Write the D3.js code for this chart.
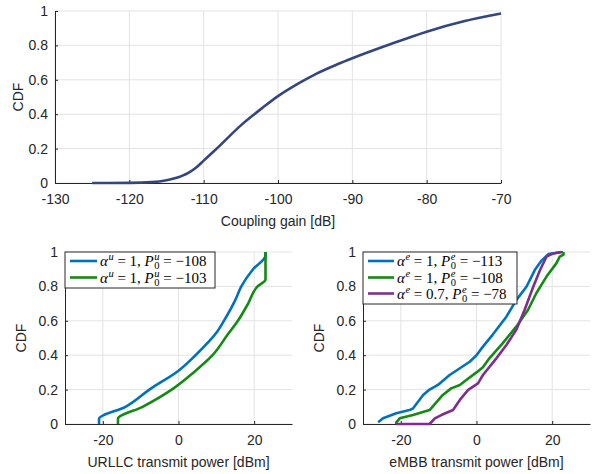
<!DOCTYPE html>
<html>
<head>
<meta charset="utf-8">
<script src="https://cdn.jsdelivr.net/npm/d3@7"></script>
<style>
  body { margin: 0; background: #fff; }
  svg { display: block; }
  .tick text { font-family: "Liberation Sans", Arial, sans-serif; }
</style>
</head>
<body>
<svg id="chart" width="616" height="474"></svg>
<script>
// coupling gain CDF (top panel)
var gainX = [-125, -120, -117, -115, -113, -112, -111, -110, -109, -108, -105, -102, -100, -97, -95, -92, -90, -85, -80, -75, -70];
var gainY = [0, 0.001, 0.005, 0.016, 0.04, 0.06, 0.09, 0.13, 0.17, 0.21, 0.335, 0.44, 0.505, 0.585, 0.632, 0.69, 0.725, 0.805, 0.88, 0.94, 0.985];

// URLLC transmit power CDFs
var urllcBlueX = [-21, -21, -14, -7.7, 0, 4.5, 10, 12, 15, 16.6, 19.7, 23, 23];
var urllcBlueY = [0, 0.03, 0.1, 0.2, 0.31, 0.4, 0.53, 0.6, 0.72, 0.8, 0.9, 0.98, 1];
var urllcGreenX = [-16, -16, -9.5, -1.8, 4, 9, 13, 15.7, 18.4, 20.9, 23, 23];
var urllcGreenY = [0, 0.03, 0.1, 0.2, 0.3, 0.4, 0.52, 0.6, 0.7, 0.8, 0.84, 1];

// eMBB transmit power CDFs
var embbBlueX = [-26, -24.7, -21.2, -17.7, -16.8, -14.1, -12.4, -10.2, -7.1, -4.4, -1.8, 0, 1.7, 4.3, 7.9, 10.5, 13.2, 15.4, 17.2, 19, 22.9];
var embbBlueY = [0.01, 0.033, 0.062, 0.081, 0.09, 0.169, 0.2, 0.227, 0.285, 0.324, 0.362, 0.4, 0.45, 0.52, 0.624, 0.72, 0.798, 0.895, 0.95, 0.988, 1];
var embbGreenX = [-21.2, -21.2, -20.3, -16.8, -12.4, -8.9, -6.7, -4.4, -2.7, 0, 1.7, 3.4, 6.9, 10.5, 13.6, 15.8, 18.5, 21.1, 22, 23, 23];
var embbGreenY = [0, 0.01, 0.033, 0.052, 0.081, 0.169, 0.207, 0.227, 0.256, 0.3, 0.33, 0.382, 0.469, 0.566, 0.663, 0.76, 0.857, 0.934, 0.973, 0.985, 1];
var embbPurpleX = [-21.2, -12.4, -11, -9.3, -6.2, -4.4, -2.2, 0.4, 1.7, 5.2, 7.9, 10.5, 12.7, 15, 16.8, 18.5, 20, 22.3];
var embbPurpleY = [0, 0, 0.033, 0.052, 0.081, 0.14, 0.198, 0.236, 0.285, 0.38, 0.459, 0.547, 0.663, 0.798, 0.895, 0.973, 0.99, 1];

var cdfTicks = [0, 0.2, 0.4, 0.6, 0.8, 1];
var gainTicks = [-130, -120, -110, -100, -90, -80, -70];
var powerTicks = [-20, 0, 20];

var urllcLegend = [
  [{t: "α", i: 1}, {sup: "u"}, {t: " = 1, "}, {t: "P", i: 1}, {sup: "u", sub: "0"}, {t: " = −108"}],
  [{t: "α", i: 1}, {sup: "u"}, {t: " = 1, "}, {t: "P", i: 1}, {sup: "u", sub: "0"}, {t: " = −103"}]
];
var embbLegend = [
  [{t: "α", i: 1}, {sup: "e"}, {t: " = 1, "}, {t: "P", i: 1}, {sup: "e", sub: "0"}, {t: " = −113"}],
  [{t: "α", i: 1}, {sup: "e"}, {t: " = 1, "}, {t: "P", i: 1}, {sup: "e", sub: "0"}, {t: " = −108"}],
  [{t: "α", i: 1}, {sup: "e"}, {t: " = 0.7, "}, {t: "P", i: 1}, {sup: "e", sub: "0"}, {t: " = −78"}]
];

var BLUE = "#0072bd", GREEN = "#138a13", PURPLE = "#7e2f8e", NAVY = "#34467f";
var svg = d3.select("#chart");
var sans = '"Liberation Sans", Arial, sans-serif';
var serif = '"Liberation Serif", serif';

function zip(xs, ys) {
  return xs.map(function(x, i) { return [x, ys[i]]; });
}

//width of a small script letter, measured off a throwaway text
function scriptWidth(s) {
  var t = svg.append("text").attr("font-family", serif).attr("font-size", "10.5px")
    .style("font-style", "italic").text(s);
  var w = t.node().getComputedTextLength();
  t.remove();
  return w;
}

//draws one axes box with grid, ticks, labels and lines
function drawPanel(cfg) {
  var x = d3.scaleLinear().domain(cfg.xDomain).range([cfg.left, cfg.right]);
  var y = d3.scaleLinear().domain([0, 1]).range([cfg.bottom, cfg.top]);
  var g = svg.append("g");

  //grid
  g.append("g").selectAll("line").data(cfg.xTicks).enter().append("line")
    .attr("x1", function(d) { return x(d); }).attr("x2", function(d) { return x(d); })
    .attr("y1", cfg.top).attr("y2", cfg.bottom)
    .attr("stroke", "#e3e3e3").attr("stroke-width", 1);
  g.append("g").selectAll("line").data(cdfTicks).enter().append("line")
    .attr("x1", cfg.left).attr("x2", cfg.right)
    .attr("y1", function(d) { return y(d); }).attr("y2", function(d) { return y(d); })
    .attr("stroke", "#e3e3e3").attr("stroke-width", 1);

  var xAxis = g.append("g").attr("transform", "translate(0," + cfg.bottom + ")")
    .call(d3.axisBottom(x).tickValues(cfg.xTicks).tickSizeInner(-3).tickSizeOuter(0)
      .tickPadding(11).tickFormat(function(d) { return d; }));
  var yAxis = g.append("g").attr("transform", "translate(" + cfg.left + ",0)")
    .call(d3.axisLeft(y).tickValues(cdfTicks).tickSizeInner(-3).tickSizeOuter(0)
      .tickPadding(7).tickFormat(function(d) { return d; }));
  [xAxis, yAxis].forEach(function(a) {
    a.select(".domain").attr("stroke", "#262626").attr("stroke-width", 1);
    a.selectAll(".tick line").attr("stroke", "#262626");
    a.selectAll("text").attr("fill", "#262626").style("font-size", "14px");
  });

  //axis labels
  g.append("text").attr("x", (cfg.left + cfg.right) / 2).attr("y", cfg.bottom + 43)
    .attr("text-anchor", "middle").attr("font-family", sans).attr("font-size", "14px")
    .attr("fill", "#262626").text(cfg.xLabel);
  g.append("text")
    .attr("transform", "translate(" + cfg.yLabelX + "," + (cfg.top + cfg.bottom) / 2 + ") rotate(-90)")
    .attr("text-anchor", "middle").attr("font-family", sans).attr("font-size", "14px")
    .attr("fill", "#262626").text("CDF");

  cfg.series.forEach(function(s) {
    var line = d3.line().x(function(d) { return x(d[0]); }).y(function(d) { return y(d[1]); })
      .curve(s.curve || d3.curveLinear);
    g.append("path").datum(zip(s.x, s.y))
      .attr("d", line).attr("fill", "none")
      .attr("stroke", s.color).attr("stroke-width", 2.6)
      .attr("stroke-linejoin", "round");
  });

  if (cfg.legend) drawLegend(cfg.legend);
}

//legend with latex-like math rows, one text element per row
function drawLegend(lg) {
  var g = svg.append("g");
  g.append("rect").attr("x", lg.x).attr("y", lg.y).attr("width", lg.w).attr("height", lg.h)
    .attr("fill", "#fff").attr("stroke", "#262626").attr("stroke-width", 1);
  lg.rows.forEach(function(row, r) {
    var cy = lg.rowY[r];
    g.append("line").attr("x1", lg.lineX0).attr("x2", lg.lineX1).attr("y1", cy).attr("y2", cy)
      .attr("stroke", lg.colors[r]).attr("stroke-width", 2.6);
    var txt = g.append("text").attr("x", lg.textX).attr("y", cy + 5)
      .attr("font-family", serif).attr("font-size", "15px").attr("fill", "#000")
      .attr("xml:space", "preserve");
    var shift = 0; //current baseline offset
    row.forEach(function(p) {
      if (p.t) {
        txt.append("tspan").attr("dy", -shift).style("font-style", p.i ? "italic" : "normal")
          .text(p.t);
        shift = 0;
      } else {
        var w = scriptWidth(p.sup);
        txt.append("tspan").attr("dx", 0.5).attr("dy", -6 - shift).attr("font-size", "10.5px")
          .style("font-style", "italic").text(p.sup);
        shift = -6;
        if (p.sub) {
          txt.append("tspan").attr("dx", -w).attr("dy", 9).attr("font-size", "10.5px")
            .style("font-style", "normal").text(p.sub);
          shift = 3;
        }
      }
    });
  });
}

drawPanel({
  left: 55, right: 501, top: 11, bottom: 183,
  xDomain: [-130, -70], xTicks: gainTicks, xLabel: "Coupling gain [dB]", yLabelX: 23,
  series: [{x: gainX, y: gainY, color: NAVY, curve: d3.curveMonotoneX}]
});

drawPanel({
  left: 65, right: 292, top: 252, bottom: 424,
  xDomain: [-30, 30], xTicks: powerTicks, xLabel: "URLLC transmit power [dBm]", yLabelX: 26,
  series: [{x: urllcBlueX, y: urllcBlueY, color: BLUE, curve: d3.curveMonotoneY},
    {x: urllcGreenX, y: urllcGreenY, color: GREEN, curve: d3.curveMonotoneY}],
  legend: {x: 65, y: 252, w: 150, h: 36, lineX0: 70, lineX1: 97, textX: 100,
    rowY: [261, 277.5], colors: [BLUE, GREEN], rows: urllcLegend}
});

drawPanel({
  left: 363, right: 590, top: 252, bottom: 424,
  xDomain: [-30, 30], xTicks: powerTicks, xLabel: "eMBB transmit power [dBm]", yLabelX: 324,
  series: [{x: embbBlueX, y: embbBlueY, color: BLUE}, {x: embbGreenX, y: embbGreenY, color: GREEN},
    {x: embbPurpleX, y: embbPurpleY, color: PURPLE}],
  legend: {x: 363, y: 252, w: 154, h: 52, lineX0: 368, lineX1: 394, textX: 397,
    rowY: [261, 277.5, 293.5], colors: [BLUE, GREEN, PURPLE], rows: embbLegend}
});
</script>
</body>
</html>
